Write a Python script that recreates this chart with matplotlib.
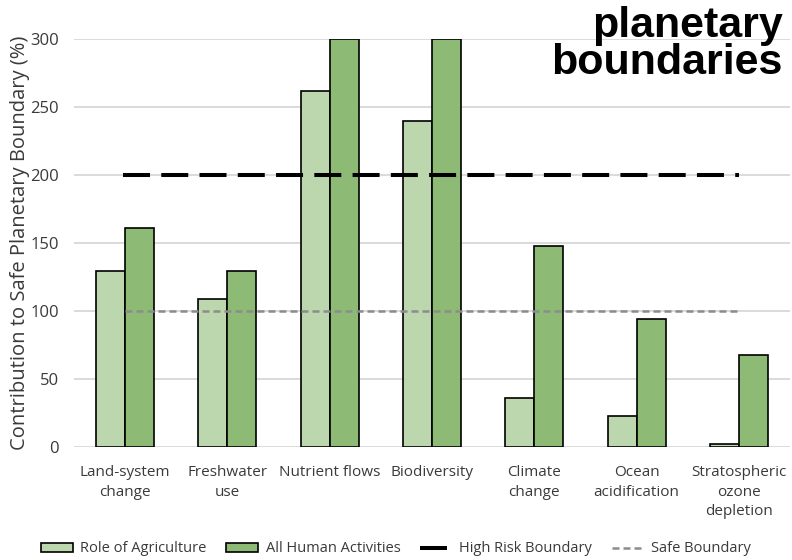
import matplotlib
matplotlib.use("Agg")
import matplotlib.pyplot as plt
import numpy as np

# Planetary boundary categories and contributions (% of safe boundary)
categories = [
    "Land-system\nchange",
    "Freshwater\nuse",
    "Nutrient flows",
    "Biodiversity",
    "Climate\nchange",
    "Ocean\nacidification",
    "Stratospheric\nozone\ndepletion",
]
agriculture = [130, 109, 262, 240, 36, 23, 2.5]
all_human = [161, 130, 300, 300, 148, 94.5, 68]
high_risk_level = 200
safe_level = 100
y_ticks = [0, 50, 100, 150, 200, 250, 300]

light_green = "#bcd6ad"
dark_green = "#8dba74"
text_color = "#3a3a3a"
font = "Open Sans"

fig = plt.figure(figsize=(7.92, 5.6), dpi=100)
ax = fig.add_axes([74 / 792, 1 - 447.3 / 560, 716 / 792, (447.3 - 39.3) / 560])

x = np.arange(len(categories))
w = 0.283

b1 = ax.bar(x - w / 2, agriculture, width=w, color=light_green, edgecolor="black",
            linewidth=1.2, label="Role of Agriculture", zorder=2)
b2 = ax.bar(x + w / 2, all_human, width=w, color=dark_green, edgecolor="black",
            linewidth=1.2, label="All Human Activities", zorder=2)

l1, = ax.plot([x[0] - 0.02, x[-1]], [high_risk_level, high_risk_level],
              color="black", linewidth=2.9, linestyle=(0, (6.7, 2.8)),
              solid_capstyle="butt", dash_capstyle="butt",
              label="High Risk Boundary", zorder=3)
l2, = ax.plot([x[0], x[-1]], [safe_level, safe_level], color="#8c8c8c",
              linewidth=1.8, linestyle=(0, (2.8, 1.6)), dash_capstyle="butt",
              label="Safe Boundary", zorder=3)

ax.set_xlim(-0.5, len(categories) - 0.5)
ax.set_ylim(0, 300)
ax.set_yticks(y_ticks)
ax.set_yticklabels([str(t) for t in y_ticks], fontsize=12, color=text_color,
                   family=font)
ax.set_xticks(x)
ax.set_xticklabels(categories, fontsize=11, color=text_color, family=font,
                   linespacing=1.4)
ax.tick_params(axis="both", length=0)
ax.tick_params(axis="x", pad=13)
ax.tick_params(axis="y", pad=11)
ax.yaxis.grid(True, color="#d4d4d4", linewidth=1.2, zorder=0)
ax.set_axisbelow(True)
for s in ax.spines.values():
    s.set_visible(False)

ax.set_ylabel("Contribution to Safe Planetary Boundary (%)", fontsize=14.5,
              color=text_color, family=font, labelpad=0)

# Two-line heading in the top-right corner
fig.text(783 / 792, 1 - 37 / 560, "planetary", ha="right", va="baseline",
         fontsize=31, fontweight="bold", family="Liberation Sans", color="black")
fig.text(783 / 792, 1 - 74 / 560, "boundaries", ha="right", va="baseline",
         fontsize=31, fontweight="bold", family="Liberation Sans", color="black")

fig.legend(handles=[b1, b2, l1, l2], loc="center",
           bbox_to_anchor=(0.5, 1 - 549 / 560), ncol=4,
           frameon=False, prop={"family": font, "size": 10.5},
           handlelength=2.2, handleheight=0.6, columnspacing=1.35,
           handletextpad=0.5, labelcolor=text_color)

fig.savefig("out.png", dpi=100, facecolor="white")
